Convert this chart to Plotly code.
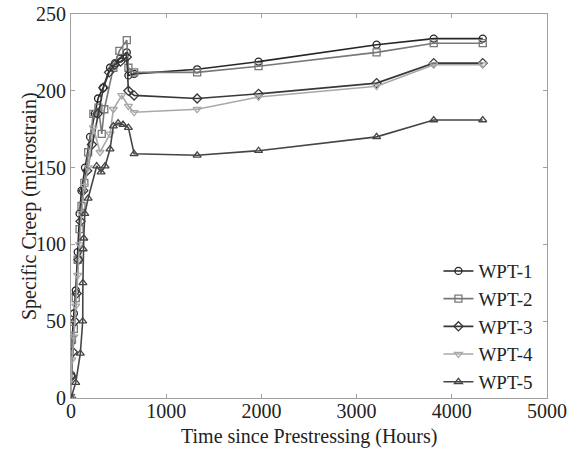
import plotly.graph_objects as go

# ---- data ----
series_names = ["WPT-1", "WPT-2", "WPT-3", "WPT-4", "WPT-5"]

t_wpt1 = [0, 3, 10, 30, 50, 70, 90, 110, 147, 200, 250, 284, 337, 410, 463, 516, 586, 603, 663, 1325, 1970, 3210, 3810, 4325]
v_wpt1 = [0, 15, 37, 55, 70, 95, 120, 135, 150, 170, 185, 195, 202, 215, 218, 221, 225, 210, 211, 214, 219, 230, 234, 234]

t_wpt2 = [0, 10, 30, 50, 70, 90, 110, 140, 180, 235, 288, 323, 350, 445, 508, 586, 603, 663, 1325, 1970, 3210, 3810, 4325]
v_wpt2 = [0, 38, 45, 65, 90, 110, 125, 140, 160, 185, 189, 172, 188, 215, 226, 233, 215, 212, 212, 216, 225, 231, 231]

t_wpt3 = [0, 5, 20, 40, 60, 80, 100, 130, 170, 220, 280, 340, 400, 460, 520, 586, 603, 663, 1325, 1970, 3210, 3810, 4325]
v_wpt3 = [0, 14, 30, 50, 68, 90, 115, 135, 148, 165, 185, 202, 212, 217, 219, 222, 200, 197, 195, 198, 205, 218, 218]

t_wpt4 = [0, 10, 30, 50, 70, 90, 110, 140, 180, 235, 305, 410, 445, 533, 603, 663, 1325, 1970, 3210, 3810, 4325]
v_wpt4 = [0, 25, 40, 60, 80, 100, 120, 138, 150, 176, 160, 172, 188, 197, 190, 186, 188, 196, 203, 217, 217]

t_wpt5 = [0, 50, 98, 123, 125, 128, 134, 145, 180, 270, 316, 358, 410, 445, 495, 547, 603, 663, 1325, 1970, 3210, 3810, 4325]
v_wpt5 = [0, 10, 29, 50, 75, 97, 104, 120, 130, 151, 147, 151, 162, 177, 179, 178, 176, 159, 158, 161, 170, 181, 181]

x_ticks = [0, 1000, 2000, 3000, 4000, 5000]
y_ticks = [0, 50, 100, 150, 200, 250]
x_title = "Time since Prestressing (Hours)"
y_title = "Specific Creep (microstrain)"

times = [t_wpt1, t_wpt2, t_wpt3, t_wpt4, t_wpt5]
values = [v_wpt1, v_wpt2, v_wpt3, v_wpt4, v_wpt5]

colors = ["#262626", "#787878", "#383838", "#a8a8a8", "#454545"]
symbols = ["circle-open", "square-open", "diamond-open", "triangle-down-open", "triangle-up-open"]

fig = go.Figure()
for name, t, v, c, s in zip(series_names, times, values, colors, symbols):
    fig.add_trace(go.Scatter(
        x=t, y=v, name=name, mode="lines+markers",
        line=dict(color=c, width=1.6),
        marker=dict(symbol=s, size=7, color=c, line=dict(color=c, width=1.3)),
    ))

FONT = "Liberation Serif"
txt = dict(family=FONT, size=20, color="#222")
axis_common = dict(
    showgrid=False, zeroline=False, showline=True, mirror="ticks",
    linecolor="#a0a0a0", linewidth=1,
    ticks="inside", ticklen=4, tickcolor="#a0a0a0",
    tickfont=txt, automargin=False,
)

fig.update_layout(
    width=572, height=451,
    margin=dict(l=71, r=25, t=14, b=53, autoexpand=False),
    paper_bgcolor="white", plot_bgcolor="white",
    font=txt,
    showlegend=True,
    legend=dict(
        x=0.982, y=0.38, xanchor="right", yanchor="top",
        bgcolor="rgba(255,255,255,0)", borderwidth=0,
        font=dict(family=FONT, size=19, color="#222"),
        tracegroupgap=0, itemwidth=30,
    ),
    xaxis=dict(range=[0, 5000], tickvals=x_ticks, ticklabelstandoff=-5,
               ticktext=[str(v) for v in x_ticks], **axis_common),
    yaxis=dict(range=[0, 250], tickvals=y_ticks, ticklabelstandoff=0,
               ticktext=[str(v) for v in y_ticks], **axis_common),
    annotations=[
        dict(text=x_title, xref="paper", yref="paper", x=0.5, y=-0.1,
             xanchor="center", yanchor="middle", showarrow=False, font=txt),
        dict(text=y_title, xref="paper", yref="paper", x=-0.088, y=0.5,
             xanchor="center", yanchor="middle", textangle=-90,
             showarrow=False, font=txt),
    ],
)

fig.write_html("out.html", config={"displayModeBar": False},
               post_script="document.body.style.margin='0';document.body.style.padding='0';")
